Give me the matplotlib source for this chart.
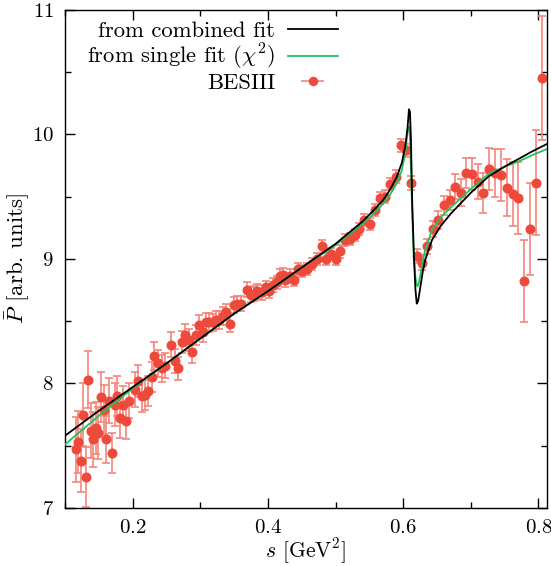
import numpy as np
import matplotlib
matplotlib.use("Agg")
import matplotlib.pyplot as plt
from matplotlib.ticker import MultipleLocator

plt.rcParams['font.family'] = 'serif'
plt.rcParams['font.serif'] = ['cmr10']
plt.rcParams['mathtext.fontset'] = 'cm'
plt.rcParams['axes.formatter.use_mathtext'] = True

# BESIII data points
s_data = [0.1158, 0.1197, 0.1230, 0.1267, 0.1306, 0.1340, 0.1380, 0.1420, 0.1454, 0.1490,
          0.1530, 0.1570, 0.1610, 0.1650, 0.1695, 0.1740, 0.1774, 0.1820, 0.1860, 0.1900,
          0.1947, 0.2036, 0.2075, 0.2135, 0.2180, 0.2230, 0.2280, 0.2320, 0.2380, 0.2440,
          0.2475, 0.2570, 0.2630, 0.2676, 0.2726, 0.2775, 0.2830, 0.2879, 0.2930, 0.2987,
          0.3037, 0.3086, 0.3135, 0.3185, 0.3234, 0.3280, 0.3330, 0.3387, 0.3440, 0.3500,
          0.3550, 0.3600, 0.3688, 0.3746, 0.3796, 0.3845, 0.3910, 0.3970, 0.4020, 0.4080,
          0.4130, 0.4180, 0.4220, 0.4254, 0.4330, 0.4390, 0.4450, 0.4510, 0.4575, 0.4650,
          0.4723, 0.4797, 0.4860, 0.4930, 0.5005, 0.5070, 0.5140, 0.5220, 0.5290, 0.5350,
          0.5427, 0.5510, 0.5586, 0.5660, 0.5734, 0.5808, 0.5896, 0.5970, 0.6044, 0.6120,
          0.6207, 0.6276, 0.6350, 0.6434, 0.6513, 0.6596, 0.6685, 0.6770, 0.6850, 0.6927,
          0.7016, 0.7100, 0.7183, 0.7268, 0.7357, 0.7445, 0.7528, 0.7617, 0.7700, 0.7790,
          0.7879, 0.7967, 0.8050]
p_data = [7.47, 7.53, 7.38, 7.75, 7.25, 8.03, 7.62, 7.55, 7.64, 7.60,
          7.89, 7.79, 7.55, 7.86, 7.44, 7.83, 7.90, 7.72, 7.83, 7.70,
          7.86, 7.95, 8.02, 7.90, 7.91, 7.94, 8.05, 8.22, 8.16, 8.12,
          8.14, 8.31, 8.18, 8.12, 8.33, 8.39, 8.35, 8.25, 8.39, 8.47,
          8.41, 8.49, 8.49, 8.49, 8.51, 8.51, 8.54, 8.57, 8.48, 8.63,
          8.64, 8.64, 8.75, 8.71, 8.72, 8.74, 8.73, 8.77, 8.74, 8.79,
          8.81, 8.86, 8.87, 8.83, 8.86, 8.83, 8.92, 8.90, 8.92, 8.96,
          9.00, 9.10, 9.00, 9.04, 9.00, 9.06, 9.15, 9.16, 9.19, 9.24,
          9.31, 9.28, 9.39, 9.49, 9.50, 9.60, 9.66, 9.91, 9.87, 9.61,
          9.02, 8.97, 9.10, 9.24, 9.31, 9.43, 9.47, 9.58, 9.53, 9.69,
          9.68, 9.62, 9.53, 9.72, 9.69, 9.67, 9.57, 9.52, 9.49, 8.82,
          9.24, 9.61, 10.45]
p_err = [0.26, 0.25, 0.25, 0.25, 0.24, 0.23, 0.22, 0.22, 0.21, 0.21,
         0.20, 0.20, 0.19, 0.18, 0.16, 0.17, 0.16, 0.16, 0.15, 0.15,
         0.14, 0.14, 0.13, 0.13, 0.12, 0.12, 0.12, 0.11, 0.11, 0.11,
         0.10, 0.10, 0.10, 0.09, 0.09, 0.09, 0.09, 0.085, 0.08, 0.08,
         0.08, 0.075, 0.075, 0.07, 0.07, 0.07, 0.07, 0.065, 0.065, 0.065,
         0.06, 0.06, 0.06, 0.06, 0.06, 0.06, 0.06, 0.055, 0.055, 0.055,
         0.055, 0.055, 0.055, 0.055, 0.055, 0.05, 0.05, 0.05, 0.05, 0.05,
         0.05, 0.05, 0.05, 0.05, 0.05, 0.05, 0.05, 0.05, 0.05, 0.05,
         0.05, 0.05, 0.05, 0.05, 0.05, 0.05, 0.05, 0.05, 0.05, 0.055,
         0.055, 0.06, 0.06, 0.065, 0.07, 0.075, 0.08, 0.10, 0.11, 0.12,
         0.13, 0.14, 0.16, 0.17, 0.19, 0.21, 0.23, 0.26, 0.29, 0.33,
         0.37, 0.42, 0.50]

# combined fit curve (black)
s_comb = [0.100, 0.150, 0.200, 0.250, 0.300, 0.350, 0.400, 0.450, 0.500, 0.540,
          0.560, 0.570, 0.580, 0.590, 0.598, 0.603, 0.6064, 0.6085,
          0.6100, 0.6115, 0.6133, 0.6160, 0.6180, 0.6200, 0.6220, 0.6250, 0.6290,
          0.6325, 0.6425, 0.6550, 0.6700, 0.6840, 0.7000, 0.7260, 0.7500, 0.7700,
          0.7900, 0.8120]
p_comb = [7.58, 7.78, 7.97, 8.16, 8.36, 8.56, 8.74, 8.93, 9.12, 9.30,
          9.41, 9.47, 9.55, 9.65, 9.77, 9.90, 10.05, 10.20,
          10.18, 9.95, 9.45, 9.00, 8.76, 8.64, 8.66, 8.76, 8.90,
          8.99, 9.15, 9.26, 9.36, 9.44, 9.53, 9.66, 9.74, 9.80,
          9.86, 9.92]

# single fit curve (green)
s_single = [0.100, 0.150, 0.200, 0.250, 0.300, 0.350, 0.400, 0.450, 0.500, 0.540,
            0.560, 0.570, 0.580, 0.590, 0.598, 0.603, 0.6065, 0.6085,
            0.6100, 0.6120, 0.6150, 0.6180, 0.6207, 0.6230, 0.6250, 0.6290, 0.6325,
            0.6425, 0.6550, 0.6700, 0.6840, 0.7000, 0.7260, 0.7500, 0.7700, 0.7900,
            0.8120]
p_single = [7.51, 7.74, 7.96, 8.16, 8.36, 8.56, 8.74, 8.93, 9.11, 9.28,
            9.38, 9.44, 9.51, 9.60, 9.71, 9.85, 10.02, 10.06,
            9.98, 9.60, 9.10, 8.85, 8.78, 8.80, 8.86, 8.98, 9.07,
            9.23, 9.33, 9.41, 9.48, 9.56, 9.68, 9.74, 9.78, 9.83,
            9.88]

fig = plt.figure(figsize=(5.51, 5.66), dpi=100)
ax = fig.add_axes([0.118, 0.1025, 0.874, 0.8805])

red = '#ee4a3c'
ax.errorbar(s_data, p_data, yerr=p_err, fmt='o', color=red, ecolor='#f4857c',
            markersize=6.2, elinewidth=1.2, capsize=3, capthick=1.2, zorder=2)
l1, = ax.plot(s_comb, p_comb, color='black', lw=1.3, zorder=4)
l2, = ax.plot(s_single, p_single, color='#22c35a', lw=1.3, zorder=3)
proxy = ax.errorbar([], [], xerr=[], fmt='o', color=red, ecolor='#f4857c',
                    markersize=5.8, elinewidth=1.2, capsize=3, capthick=1.2)

ax.set_xlim(0.1, 0.812)
ax.set_ylim(7, 11)
ax.xaxis.set_major_locator(MultipleLocator(0.2))
ax.xaxis.set_minor_locator(MultipleLocator(0.1))
ax.yaxis.set_major_locator(MultipleLocator(1))
ax.yaxis.set_minor_locator(MultipleLocator(0.5))
ax.tick_params(which='both', direction='in', top=True, right=True, labelsize=15, width=1)
ax.tick_params(which='major', length=7, pad=8)
ax.tick_params(which='minor', length=4)
for sp in ax.spines.values():
    sp.set_linewidth(1)

ax.set_xlabel(r'$s$ [GeV$^2$]', fontsize=15.5)
ax.xaxis.set_label_coords(0.5, -0.058)
ax.set_ylabel(r'$\bar{P}$ [arb. units]', fontsize=16.5)
ax.yaxis.set_label_coords(-0.068, 0.5)

ax.legend([l1, l2, proxy], ['from combined fit', r'from single fit $(\chi^2)$', 'BESIII'],
          loc='upper right', bbox_to_anchor=(0.58, 0.99), frameon=False, markerfirst=False,
          fontsize=16.3, handlelength=2.2, labelspacing=0.03, handletextpad=0.55,
          borderaxespad=0.0, borderpad=0.3)

fig.savefig('out.png', dpi=100)
